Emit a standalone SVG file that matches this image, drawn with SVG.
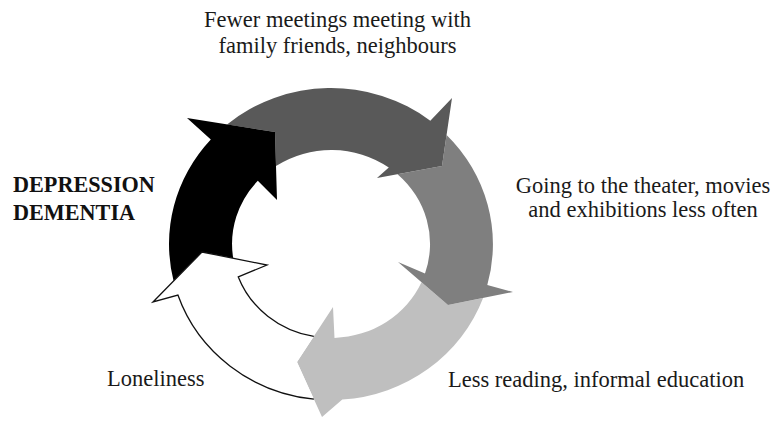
<svg xmlns="http://www.w3.org/2000/svg" width="776" height="423" viewBox="0 0 776 423">
  <style>
    .lbl { font-family: "Liberation Serif", "Times New Roman", serif; font-size: 22.5px; fill: #1a1a1a; }
    .bold { font-weight: bold; font-size: 22.2px; fill: #111; }
  </style>
  <rect width="776" height="423" fill="#ffffff"/>

  <!-- Cycle of five curved block arrows; each tail is tucked under the previous head -->
  <g id="connectors">
    <g id="arrow-light">
      <path fill="#bfbfbf" d="M483.1,298 A162,156 0 0 1 342.3,399.6 L322,417 L297,362 L333,307 L334.5,337.9 A99,94 0 0 0 421.5,282.2 L448,305 Z"/>
    </g>
    <g id="arrow-medium">
      <path fill="#7f7f7f" d="M446.6,134.9 A162,156 0 0 1 487.3,284.9 L513,292 L448,305 L398,262 L425,273.5 A99,94 0 0 0 397.5,174.2 L442,166 Z"/>
    </g>
    <g id="arrow-dark">
      <path fill="#595959" d="M227,124.4 A162,156 0 0 1 430.3,120.7 L452,98 L442,166 L377,178 L388.8,167.6 A99,94 0 0 0 276,166 L275,132 Z"/>
    </g>
    <g id="arrow-black">
      <path fill="#000000" d="M173.6,281 A162,156 0 0 1 210.8,139.5 L187,118 L275,132 L277,200 L257.8,180.7 A99,94 0 0 0 233.2,258.2 L202,252 Z"/>
    </g>
    <g id="arrow-white">
      <path fill="#ffffff" d="M313.9,399.2 A162,156 0 0 1 177.9,295 L153,302 L202,252 L267,265 L238.3,276.9 A99,94 0 0 0 313.8,336.4 L297,362 Z"/>
      <path fill="none" stroke="#111" stroke-width="1.3" stroke-linejoin="miter" d="M313.9,399.2 A162,156 0 0 1 177.9,295 L153,302 L202,252 L267,265 L238.3,276.9 A99,94 0 0 0 313.8,336.4"/>
    </g>
  </g>

  <g id="node-top">
    <text class="lbl" x="337.5" y="27.3" text-anchor="middle">Fewer meetings meeting with</text>
    <text class="lbl" x="337.5" y="53.3" text-anchor="middle">family friends, neighbours</text>
  </g>
  <g id="node-right">
    <text class="lbl" x="643" y="193.3" text-anchor="middle">Going to the theater, movies</text>
    <text class="lbl" x="643" y="216.7" text-anchor="middle">and exhibitions less often</text>
  </g>
  <g id="node-bottom-right">
    <text class="lbl" x="448" y="387">Less reading, informal education</text>
  </g>
  <g id="node-bottom-left">
    <text class="lbl" x="107" y="386">Loneliness</text>
  </g>
  <g id="node-left">
    <text class="lbl bold" x="13" y="191.7">DEPRESSION</text>
    <text class="lbl bold" x="13" y="219.5">DEMENTIA</text>
  </g>
</svg>
